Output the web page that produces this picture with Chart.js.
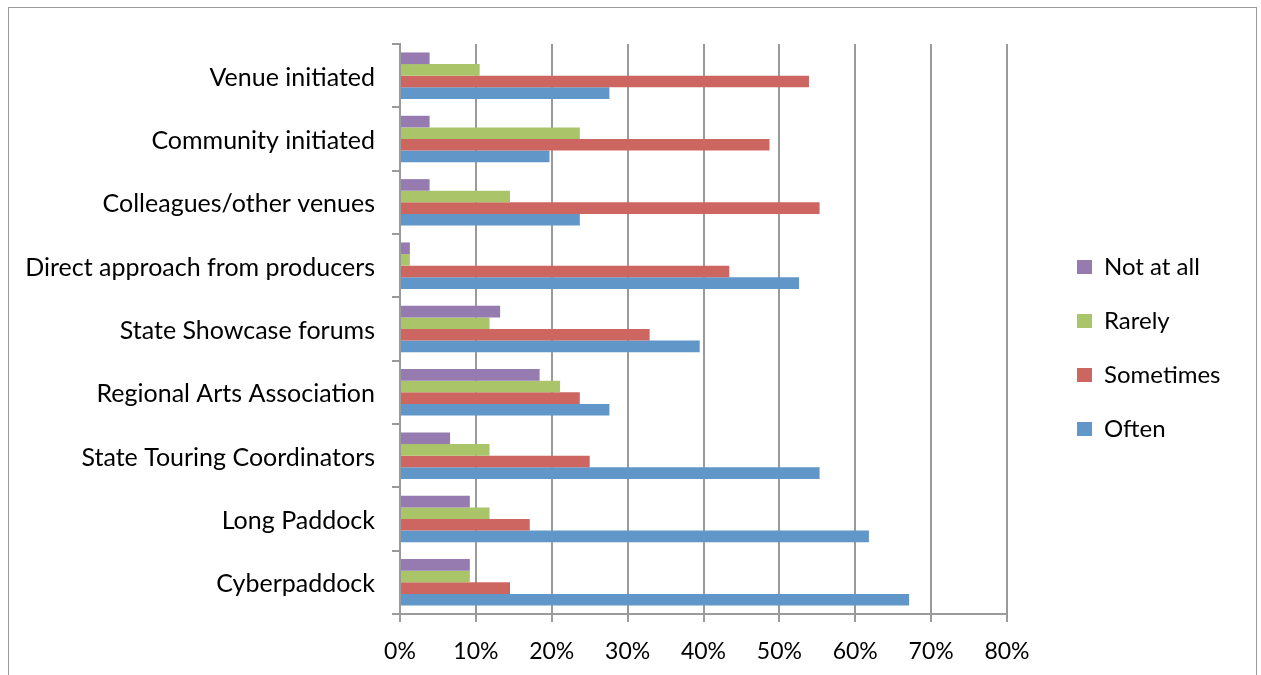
<!DOCTYPE html>
<html>
<head>
<meta charset="utf-8">
<title>Sources</title>
<script src="https://cdn.jsdelivr.net/npm/chart.js@4/dist/chart.umd.min.js"></script>
<style>
  body{margin:0;background:#fff;}
  .cadre{position:absolute;left:8px;top:7px;width:1247px;height:720px;border:1px solid #9a9a9a;}
  #barCanvas{position:absolute;left:0;top:0;}
</style>
</head>
<body>
<div class="cadre"></div>
<canvas id="barCanvas" width="1261" height="675"></canvas>
<script>
// categories, top to bottom
var labels=['Venue initiated','Community initiated','Colleagues/other venues','Direct approach from producers',
  'State Showcase forums','Regional Arts Association','State Touring Coordinators','Long Paddock','Cyberpaddock'];
// percentages for each answer
var notAtAll=[3.9,3.9,3.9,1.3,13.2,18.4,6.6,9.2,9.2];
var rarely=[10.5,23.7,14.5,1.3,11.8,21.1,11.8,11.8,9.2];
var sometimes=[53.9,48.7,55.3,43.4,32.9,23.7,25.0,17.1,14.5];
var often=[27.6,19.7,23.7,52.6,39.5,27.6,55.3,61.8,67.1];
var xTicks=[0,10,20,30,40,50,60,70,80];

var gris='#9a9a9a';
var police="Lato, 'Open Sans', sans-serif";

//moving the legend block next to the plot, where the sheet had it
const legendPlace={
  id:'legendPlace',
  afterLayout(chart){
    let lg=chart.legend;
    let pad=lg.options.labels.padding;
    let colH=lg.legendItems.length*(24+pad);
    lg.left=chart.chartArea.right+70-pad;
    lg.right=lg.left+200;
    lg.top=chart.chartArea.top+211-pad;
    lg.bottom=lg.top+pad+colH;
  }
};

const barCanvas=document.getElementById('barCanvas').getContext('2d');
let barChart=new Chart(barCanvas,{
  type:'bar',
  data:{
    labels:labels,
    datasets:[
      {label:'Not at all',data:notAtAll,backgroundColor:'#957bb0'},
      {label:'Rarely',data:rarely,backgroundColor:'#aac46a'},
      {label:'Sometimes',data:sometimes,backgroundColor:'#cd6660'},
      {label:'Often',data:often,backgroundColor:'#6096c8'}
    ]
  },
  options:{
    indexAxis:'y',
    responsive:false,
    animation:false,
    devicePixelRatio:1,
    datasets:{bar:{categoryPercentage:0.733,barPercentage:1,borderWidth:0}},
    layout:{padding:{top:44,right:154,bottom:0,left:0}},
    plugins:{
      tooltip:{enabled:false},
      legend:{
        position:'right',
        maxWidth:100,
        labels:{boxWidth:15,boxHeight:14,padding:30,color:'#000',font:{family:police,size:24}}
      }
    },
    scales:{
      x:{
        min:0,max:80,
        afterBuildTicks(scale){scale.ticks=xTicks.map(v=>({value:v}));},
        afterFit(scale){scale.height=61;},
        grid:{color:gris,lineWidth:2,tickLength:8},
        border:{color:gris,width:2},
        ticks:{color:'#000',padding:16,font:{family:police,size:23},callback:v=>v+'%'}
      },
      y:{
        afterFit(scale){scale.width=400;},
        grid:{drawOnChartArea:false,color:gris,lineWidth:2,tickLength:8,offset:true},
        border:{color:gris,width:2},
        ticks:{color:'#000',padding:17,labelOffset:2,font:{family:police,size:25}}
      }
    }
  },
  plugins:[legendPlace]
});
</script>
</body>
</html>
